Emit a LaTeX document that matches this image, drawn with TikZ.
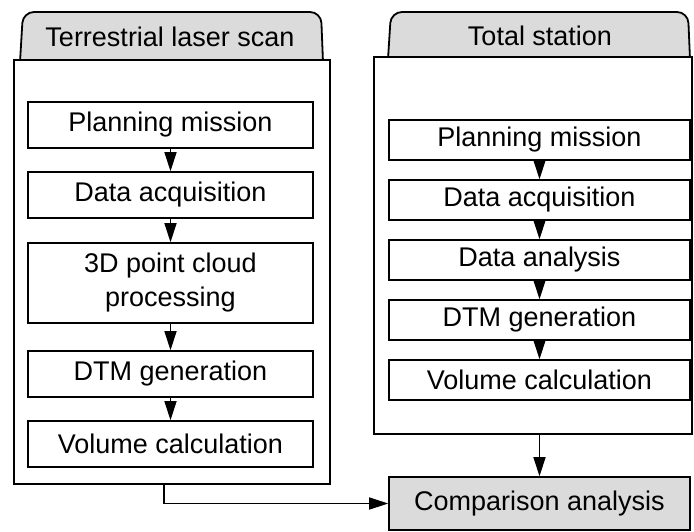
\documentclass[tikz,border=0pt]{standalone}
\usepackage{fontspec}
\setmainfont{Liberation Sans}
\usetikzlibrary{arrows.meta,calc}
\begin{document}
\begin{tikzpicture}[x=1pt,y=-1pt,
  every node/.style={font=\fontsize{27}{34}\selectfont, inner sep=0pt, align=center},
  lbox/.style={draw, line width=1.6pt, minimum width=285pt, minimum height=46pt},
  rbox/.style={draw, line width=1.6pt, minimum width=301pt, minimum height=40pt},
  panel/.style={draw, line width=1.6pt, fill=white},
  tabshape/.style={draw, line width=1.8pt, fill=black!14, rounded corners=11pt},
  arr/.style={line width=1.6pt, -{Triangle[length=19pt 0,width=12pt 0]}}
]
\useasboundingbox (0,0) rectangle (694,531);
% tabs
\draw[tabshape] (20,62) -- (23,12) -- (321,12) -- (323,62);
\draw[tabshape] (388,59) -- (391,12) -- (688,12) -- (690,59);
\node (ltab) at (170,37) {Terrestrial laser scan};
\node (rtab) at (540,36) {Total station};
% panels
\node[panel, minimum width=316pt, minimum height=424pt] (lpanel) at (172,272) {};
\node[panel, minimum width=318pt, minimum height=377pt] (rpanel) at (533,245.5) {};
% left boxes
\node[lbox] (l1) at (170.5,125) {Planning mission};
\node[lbox] (l2) at (170.5,195) {Data acquisition};
\node[lbox, minimum height=80pt] (l3) at (170.5,283) {3D point cloud\\processing};
\node[lbox] (l4) at (170.5,374) {DTM generation};
\node[lbox] (l5) at (170.5,444) {Volume calculation};
% right boxes
\node[rbox] (r1) at (539.5,140) {Planning mission};
\node[rbox] (r2) at (539.5,200) {Data acquisition};
\node[rbox] (r3) at (539.5,260) {Data analysis};
\node[rbox] (r4) at (539.5,320) {DTM generation};
\node[rbox] (r5) at (539.5,380) {Volume calculation};
% comparison
\node[draw, line width=1.6pt, fill=black!14, minimum width=301pt, minimum height=53pt] (cmp) at (539.5,503.5) {Comparison analysis};
% arrows
\draw[arr] (l1) -- (l2);
\draw[arr] (l2) -- (l3);
\draw[arr] (l3) -- (l4);
\draw[arr] (l4) -- (l5);
\draw[arr] (r1) -- (r2);
\draw[arr] (r2) -- (r3);
\draw[arr] (r3) -- (r4);
\draw[arr] (r4) -- (r5);
\draw[arr] (rpanel.south -| cmp.north) -- (cmp.north);
\draw[arr] ([xshift=-8pt]lpanel.south) |- (cmp.west);
\end{tikzpicture}
\end{document}
